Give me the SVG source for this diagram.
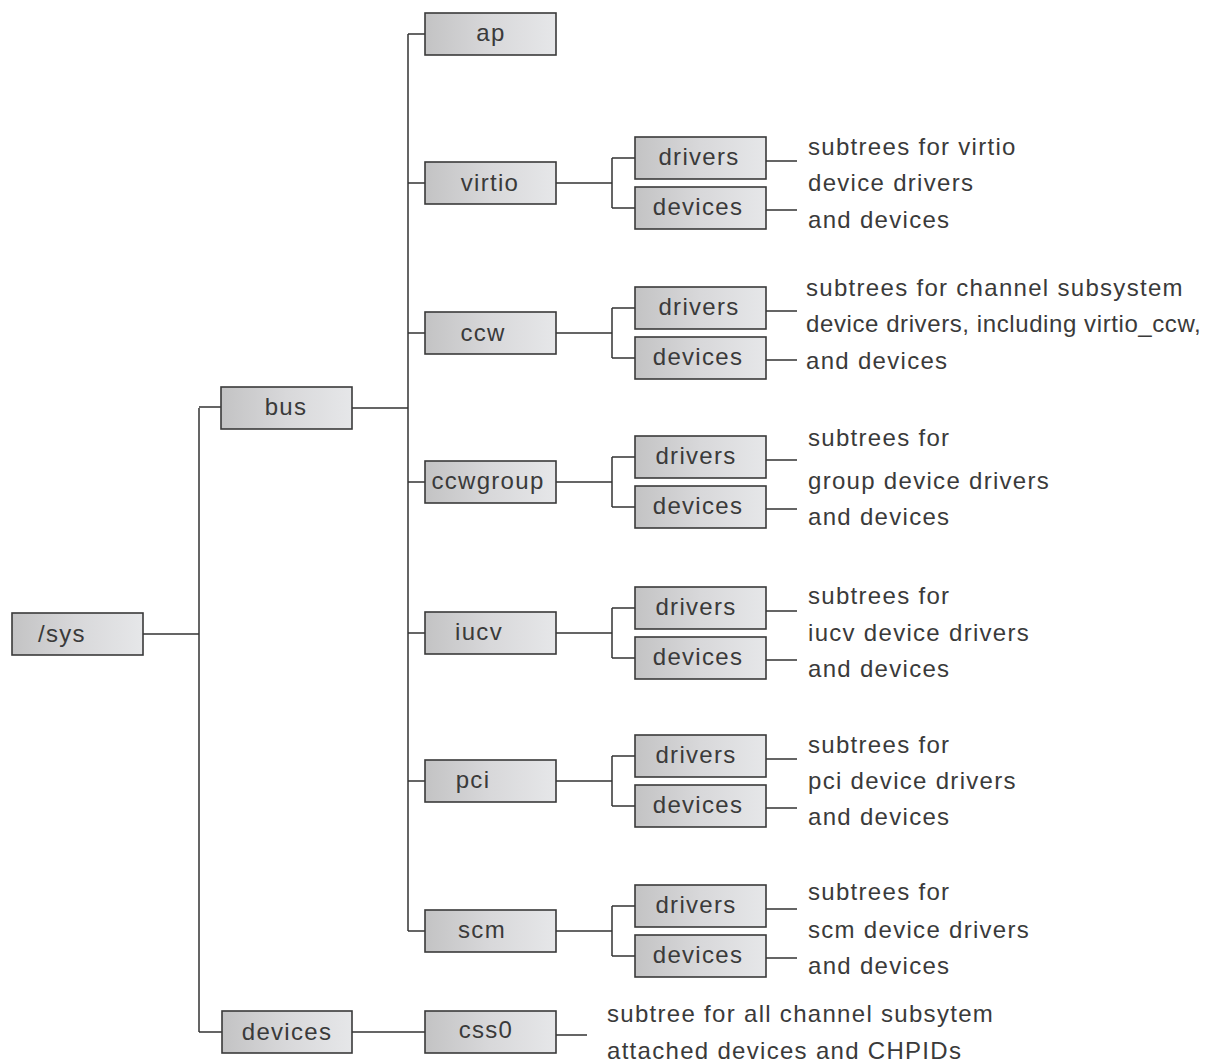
<svg xmlns="http://www.w3.org/2000/svg" width="1209" height="1063" viewBox="0 0 1209 1063">
<defs>
<linearGradient id="g" x1="0" y1="0" x2="1" y2="0">
<stop offset="0" stop-color="#c3c3c4"/>
<stop offset="0.5" stop-color="#d8d8da"/>
<stop offset="1" stop-color="#e6e7e9"/>
</linearGradient>
<style>
.b{fill:url(#g);stroke:#3a3a3a;stroke-width:1.6}
.t{font-family:"Liberation Sans",Arial,sans-serif;font-size:24px;letter-spacing:1.3px;fill:#3a3a3a}
.m{text-anchor:middle}
.c{fill:none;stroke:#333;stroke-width:1.5}
</style>
</defs>
<rect width="1209" height="1063" fill="#fff"/>
<g id="connectors" class="c">
<path d="M143 634H199M199 408V1032M199 407H221M199 1032H222"/>
<path d="M352 408H408M408 34V931M408 34H425M408 183H425M408 333H425M408 482H425M408 633H425M408 781H425M408 931H425"/>
<path d="M352 1032H425M556 1035H587"/>
<path d="M556 183H612M612 158V208M612 158H635M612 208H635M766 161H797M766 210H797"/>
<path d="M556 333H612M612 308V358M612 308H635M612 358H635M766 311H797M766 360H797"/>
<path d="M556 482H612M612 457V507M612 457H635M612 507H635M766 460H797M766 509H797"/>
<path d="M556 633H612M612 608V658M612 608H635M612 658H635M766 611H797M766 660H797"/>
<path d="M556 781H612M612 756V806M612 756H635M612 806H635M766 759H797M766 808H797"/>
<path d="M556 931H612M612 906V956M612 906H635M612 956H635M766 909H797M766 958H797"/>
</g>
<g id="n-sys"><rect class="b" x="12" y="613" width="131" height="42"/><text class="t" x="38" y="642">/sys</text></g>
<g id="n-bus"><rect class="b" x="221" y="387" width="131" height="42"/><text class="t m" x="286" y="415">bus</text></g>
<g id="n-devices"><rect class="b" x="222" y="1011" width="130" height="42"/><text class="t m" x="287" y="1040">devices</text></g>
<g id="n-ap"><rect class="b" x="425" y="13" width="131" height="42"/><text class="t m" x="491" y="41">ap</text></g>
<g id="n-virtio"><rect class="b" x="425" y="162" width="131" height="42"/><text class="t m" x="490" y="191">virtio</text></g>
<g id="n-ccw"><rect class="b" x="425" y="312" width="131" height="42"/><text class="t m" x="483" y="341">ccw</text></g>
<g id="n-ccwgroup"><rect class="b" x="425" y="461" width="131" height="42"/><text class="t m" x="488" y="489">ccwgroup</text></g>
<g id="n-iucv"><rect class="b" x="425" y="612" width="131" height="42"/><text class="t m" x="479" y="640">iucv</text></g>
<g id="n-pci"><rect class="b" x="425" y="760" width="131" height="42"/><text class="t m" x="473" y="788">pci</text></g>
<g id="n-scm"><rect class="b" x="425" y="910" width="131" height="42"/><text class="t m" x="482" y="938">scm</text></g>
<g id="n-css0"><rect class="b" x="425" y="1011" width="131" height="42"/><text class="t m" x="486" y="1038">css0</text></g>

<g id="virtio-drivers"><rect class="b" x="635" y="137" width="131" height="42"/><text class="t m" x="699" y="165">drivers</text></g>
<g id="virtio-devices"><rect class="b" x="635" y="187" width="131" height="42"/><text class="t m" x="698" y="215">devices</text></g>
<g id="ccw-drivers"><rect class="b" x="635" y="287" width="131" height="42"/><text class="t m" x="699" y="315">drivers</text></g>
<g id="ccw-devices"><rect class="b" x="635" y="337" width="131" height="42"/><text class="t m" x="698" y="365">devices</text></g>
<g id="ccwgroup-drivers"><rect class="b" x="635" y="436" width="131" height="42"/><text class="t m" x="696" y="464">drivers</text></g>
<g id="ccwgroup-devices"><rect class="b" x="635" y="486" width="131" height="42"/><text class="t m" x="698" y="514">devices</text></g>
<g id="iucv-drivers"><rect class="b" x="635" y="587" width="131" height="42"/><text class="t m" x="696" y="615">drivers</text></g>
<g id="iucv-devices"><rect class="b" x="635" y="637" width="131" height="42"/><text class="t m" x="698" y="665">devices</text></g>
<g id="pci-drivers"><rect class="b" x="635" y="735" width="131" height="42"/><text class="t m" x="696" y="763">drivers</text></g>
<g id="pci-devices"><rect class="b" x="635" y="785" width="131" height="42"/><text class="t m" x="698" y="813">devices</text></g>
<g id="scm-drivers"><rect class="b" x="635" y="885" width="131" height="42"/><text class="t m" x="696" y="913">drivers</text></g>
<g id="scm-devices"><rect class="b" x="635" y="935" width="131" height="42"/><text class="t m" x="698" y="963">devices</text></g>

<g id="desc-virtio" class="t"><text x="808" y="155">subtrees for virtio</text><text x="808" y="191">device drivers</text><text x="808" y="228">and devices</text></g>
<g id="desc-ccw" class="t"><text x="806" y="296">subtrees for channel subsystem</text><text x="806" y="332" textLength="396" lengthAdjust="spacing">device drivers, including virtio_ccw,</text><text x="806" y="369">and devices</text></g>
<g id="desc-ccwgroup" class="t"><text x="808" y="446">subtrees for</text><text x="808" y="489">group device drivers</text><text x="808" y="525">and devices</text></g>
<g id="desc-iucv" class="t"><text x="808" y="604">subtrees for</text><text x="808" y="641">iucv device drivers</text><text x="808" y="677">and devices</text></g>
<g id="desc-pci" class="t"><text x="808" y="753">subtrees for</text><text x="808" y="789">pci device drivers</text><text x="808" y="825">and devices</text></g>
<g id="desc-scm" class="t"><text x="808" y="900">subtrees for</text><text x="808" y="938">scm device drivers</text><text x="808" y="974">and devices</text></g>
<g id="desc-css0" class="t"><text x="607" y="1022">subtree for all channel subsytem</text><text x="607" y="1059">attached devices and CHPIDs</text></g>
</svg>
